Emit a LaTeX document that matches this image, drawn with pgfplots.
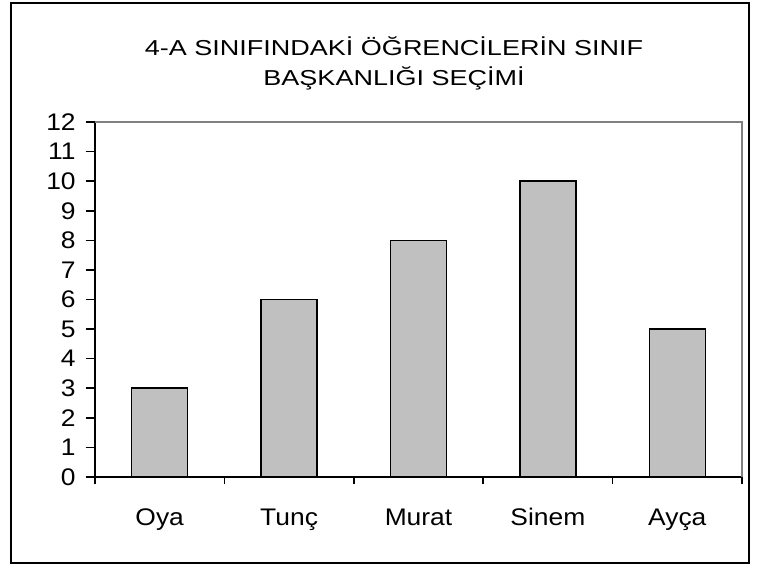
\documentclass[border=0pt]{standalone}
\usepackage{pgfplots}
\pgfplotsset{compat=1.18}
\usepackage{fontspec}
\setmainfont{Liberation Sans}
\newfontfamily\tickfont[FakeStretch=1.1]{Liberation Sans}
\newfontfamily\titlefont[FakeStretch=1.25]{Liberation Sans}
\definecolor{barfill}{HTML}{C0C0C0}
\definecolor{framegray}{HTML}{808080}
\begin{document}
\begin{tikzpicture}[x=1pt,y=1pt]
\fill[white] (-71.25,-66.75) rectangle (498.75,357.75);
\begin{axis}[
  at={(0,0)}, anchor=south west,
  scale only axis,
  width=485.25pt, height=266.25pt,
  xmin=-0.5, xmax=4.5, ymin=0, ymax=12,
  axis lines*=left,
  axis line style={-, line width=1.5pt, black},
  xtick={0,1,2,3,4},
  xticklabels={Oya,Tunç,Murat,Sinem,Ayça},
  major x tick style={draw=none},
  minor xtick={-0.5,0.5,1.5,2.5,3.5,4.5},
  minor x tick style={line width=1.2pt, black},
  minor tick length=5.5pt,
  ytick={0,1,...,12},
  major y tick style={line width=1.2pt, black},
  major tick length=7pt,
  tick align=outside,
  /pgf/number format/assume math mode=true,
  tick label style={font=\tickfont\fontsize{18}{18}\selectfont},
  xticklabel style={anchor=north, text height=13.5pt, text depth=4pt, yshift=-12pt},
  yticklabel style={xshift=-4pt},
  ybar, bar width=42pt,
  clip=false,
]
\addplot[fill=barfill, draw=black, line width=1.2pt] coordinates {(0,3) (1,6) (2,8) (3,10) (4,5)};
\draw[framegray, line width=0.9pt] (rel axis cs:0,1) -- (rel axis cs:1,1) -- (rel axis cs:1,0);
\end{axis}
\node[align=center, font=\titlefont\fontsize{16.2}{22.5}\selectfont] at (224.25,310.5) {4-A SINIFINDAKİ ÖĞRENCİLERİN SINIF\\BAŞKANLIĞI SEÇİMİ};
\draw[black, line width=1.5pt] (-63,-64.5) rectangle (490.5,355.5);
\end{tikzpicture}
\end{document}
